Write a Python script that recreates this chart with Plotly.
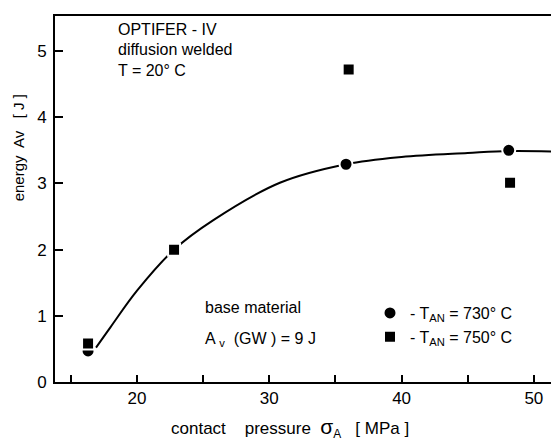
import plotly.graph_objects as go

# data
circle_x = [16.3, 35.8, 48.1]
circle_y = [0.47, 3.29, 3.50]
square_x = [16.3, 22.8, 36.0, 48.2]
square_y = [0.58, 2.00, 4.72, 3.01]
curve_x = [16.9, 18.0, 20.0, 22.8, 25.8, 30.8, 35.8, 40.0, 45.0, 48.1, 52.0]
curve_y = [0.52, 0.83, 1.38, 2.00, 2.45, 3.01, 3.29, 3.40, 3.46, 3.49, 3.48]
x_major = [20, 30, 40, 50]
x_minor = [15, 25, 35, 45]
y_ticks = [0, 1, 2, 3, 4, 5]

FONT = "Liberation Sans, Arial, sans-serif"
NB = "\u00a0"

fig = go.Figure()
fig.add_trace(go.Scatter(x=curve_x, y=curve_y, mode="lines", line=dict(color="black", width=2, shape="spline"),
                         showlegend=False, hoverinfo="skip"))
fig.add_trace(go.Scatter(x=circle_x, y=circle_y, mode="markers", name="- T<sub>AN</sub> = 730° C",
                         marker=dict(symbol="circle", size=13, color="black", line=dict(color="white", width=2))))
fig.add_trace(go.Scatter(x=square_x, y=square_y, mode="markers", name="- T<sub>AN</sub> = 750° C",
                         marker=dict(symbol="square", size=12, color="black", line=dict(color="white", width=2))))

ann = []
for txt, yy in [("OPTIFER - IV", 5.32), ("diffusion welded", 5.02), ("T = 20° C", 4.71)]:
    ann.append(dict(x=18.4, y=yy, text=txt, showarrow=False, xanchor="left", yanchor="middle",
                    font=dict(size=16, family=FONT, color="black")))
ann.append(dict(x=25.0, y=1.12, text="base material", showarrow=False, xanchor="left", yanchor="middle",
                font=dict(size=16, family=FONT, color="black")))
ann.append(dict(x=25.0, y=0.64, text="A <sub>v</sub>  (GW ) = 9 J", showarrow=False, xanchor="left", yanchor="middle",
                font=dict(size=16, family=FONT, color="black")))
ann.append(dict(xref="paper", yref="paper", x=-0.073, y=0.639, text="energy  Av   [ J ]", textangle=-90,
                showarrow=False, xanchor="center", yanchor="middle", font=dict(size=15, family=FONT, color="black")))
xtitle = ("contact" + NB * 4 + "pressure" + NB * 2 + "<span style='font-size:21px'>σ</span><sub>A</sub>"
          + NB * 3 + "[ MPa ]")
ann.append(dict(xref="paper", yref="paper", x=0.467, y=-0.127, text=xtitle,
                showarrow=False, xanchor="center", yanchor="middle", font=dict(size=17, family=FONT, color="black")))

fig.update_layout(
    width=551, height=434,
    margin=dict(l=47, r=0, t=8, b=60),
    plot_bgcolor="white", paper_bgcolor="white",
    font=dict(family=FONT, color="black"),
    annotations=ann,
    legend=dict(x=0.625, y=0.235, xanchor="left", yanchor="top", bgcolor="rgba(0,0,0,0)",
                font=dict(size=16, family=FONT, color="black"), itemwidth=30, tracegroupgap=0),
    xaxis=dict(range=[13.8, 51.9], showgrid=False, zeroline=False, showline=True, linecolor="black", linewidth=2,
               mirror=True, ticks="inside", ticklen=7, tickwidth=1.5, tickcolor="black",
               tickvals=x_major, ticktext=[str(v) for v in x_major],
               minor=dict(tickvals=x_minor, ticks="inside", ticklen=7, tickwidth=1.5, tickcolor="black", showgrid=False),
               tickfont=dict(size=17, family=FONT, color="black")),
    yaxis=dict(range=[0, 5.53], showgrid=False, zeroline=False, showline=True, linecolor="black", linewidth=2,
               ticks="inside", ticklen=8, tickwidth=1.5, tickcolor="black", ticklabelstandoff=3,
               tickvals=y_ticks, ticktext=[str(v) for v in y_ticks],
               tickfont=dict(size=17, family=FONT, color="black")),
)

fig.write_html("out.html")
